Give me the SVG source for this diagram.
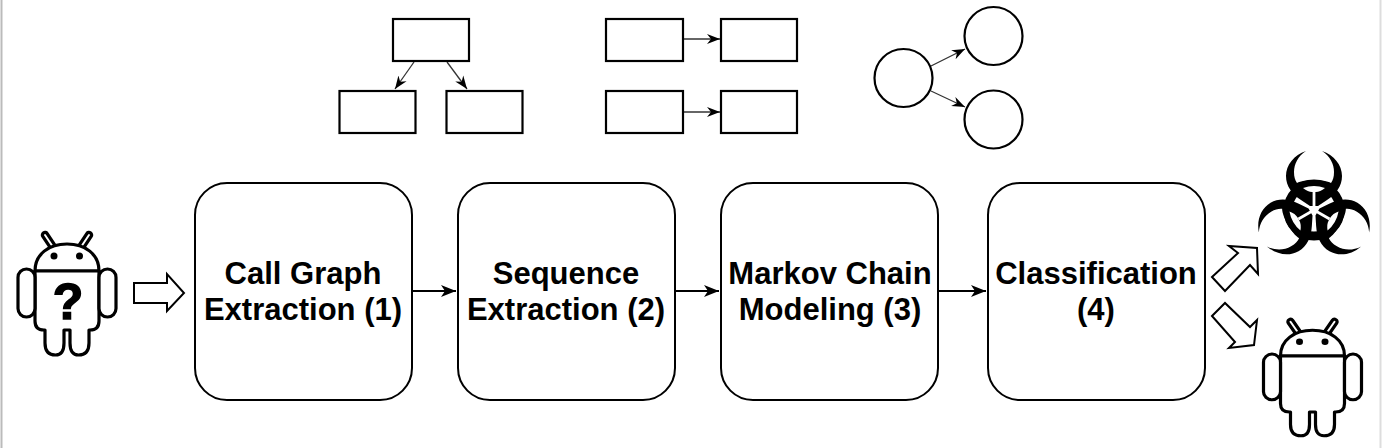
<svg xmlns="http://www.w3.org/2000/svg" width="1383" height="448" viewBox="0 0 1383 448">
<style>
.box{fill:#fff;stroke:#000;stroke-width:2}
.mini{fill:#fff;stroke:#000;stroke-width:2.2}
.lbl{font-family:"Liberation Sans",Arial,sans-serif;font-size:31px;font-weight:bold;text-anchor:middle;fill:#000}
.con{fill:none;stroke:#000;stroke-width:2;marker-end:url(#a)}
.con2{fill:none;stroke:#333;stroke-width:1.3;marker-end:url(#b)}
.fat{fill:#fff;stroke:#000;stroke-width:2;stroke-linejoin:miter}
.droid{fill:#fff;stroke:#000;stroke-width:3.2;stroke-linejoin:round;stroke-linecap:round}
</style>
<defs>
<marker id="a" markerWidth="16" markerHeight="14" refX="15" refY="7" orient="auto" markerUnits="userSpaceOnUse"><path d="M0 1L15 7L0 13L4 7Z" fill="#000"/></marker>
<marker id="b" markerWidth="14" markerHeight="12" refX="13" refY="6" orient="auto" markerUnits="userSpaceOnUse"><path d="M0 1L13 6L0 11L4 6Z" fill="#000"/></marker>
<g id="droidShape">
<path d="M-14 -24L-22 -36M14 -24L22 -36" stroke="#000" stroke-width="8.5" stroke-linecap="round" fill="none"/>
<path d="M-14 -24L-22 -36M14 -24L22 -36" stroke="#fff" stroke-width="2" stroke-linecap="round" fill="none"/>
<path class="droid" d="M-32 0C-32 -17 -18 -27 0 -27C18 -27 32 -17 32 0Z"/>
<path class="droid" d="M-32 0H32V50Q32 59 23 59H22V72Q22 84 11.500 84Q3 84 3 72V59H-3V72Q-3 84 -11.500 84Q-22 84 -22 72V59H-23Q-32 59 -32 50Z"/>
<rect class="droid" x="-49" y="-2" width="17" height="48" rx="8.5"/>
<rect class="droid" x="32" y="-2" width="17" height="48" rx="8.5"/>
<circle cx="-13" cy="-15" r="3.500" fill="#000"/>
<circle cx="12.500" cy="-15" r="3.500" fill="#000"/>
</g>
<path id="bladeBlack" fill="#000" d="M-8 -59C-20 -55 -28 -45 -28 -34C-28 -24 -22 -16 -13 -10L-4 -4H4L13 -10C22 -16 28 -24 28 -34C28 -45 20 -55 8 -59C16 -54 20 -46 20 -38C20 -33 19 -30 17 -27C10 -31 -10 -31 -17 -27C-19 -30 -20 -33 -20 -38C-20 -46 -16 -54 -8 -59Z"/>
<g id="bladeWhite" fill="#fff">
<path d="M-11 -22Q0 -26 11 -22Q6 -18 2 -18H-2Q-6 -18 -11 -22Z"/>
<path d="M0 -18V-2" stroke="#fff" stroke-width="2.8" fill="none"/>
</g>
</defs>
<rect width="1383" height="448" fill="#fff"/>
<path d="M1.500 0V448" stroke="#bbb" stroke-width="2" fill="none"/>
<path d="M1380.500 0V448" stroke="#ddd" stroke-width="2" fill="none"/>

<g id="connectors">
<path class="con" d="M412 291H456"/>
<path class="con" d="M675 291H719"/>
<path class="con" d="M938 291H986"/>
<path class="con2" d="M414 62L395 89"/>
<path class="con2" d="M447 62L467 89"/>
<path class="con2" d="M683 39H720"/>
<path class="con2" d="M683 112H720"/>
<path class="con2" d="M931 66L965 49"/>
<path class="con2" d="M931 91L965 107"/>
</g>

<g id="n1"><rect class="box" x="195" y="183" width="217" height="217" rx="32"/><text class="lbl" x="303" y="284">Call Graph</text><text class="lbl" x="303" y="320">Extraction (1)</text></g>
<g id="n2"><rect class="box" x="458" y="183" width="217" height="217" rx="32"/><text class="lbl" x="566" y="284">Sequence</text><text class="lbl" x="566" y="320">Extraction (2)</text></g>
<g id="n3"><rect class="box" x="721" y="183" width="217" height="217" rx="32"/><text class="lbl" x="830" y="284">Markov Chain</text><text class="lbl" x="830" y="320">Modeling (3)</text></g>
<g id="n4"><rect class="box" x="988" y="183" width="217" height="217" rx="32"/><text class="lbl" x="1096" y="284">Classification</text><text class="lbl" x="1096" y="320">(4)</text></g>

<g id="tree-root"><rect class="mini" x="393" y="19" width="76" height="42"/></g>
<g id="tree-left"><rect class="mini" x="339.500" y="91" width="76" height="42"/></g>
<g id="tree-right"><rect class="mini" x="446.500" y="91" width="76" height="42"/></g>
<g id="seq-a1"><rect class="mini" x="606" y="19" width="77" height="42"/></g>
<g id="seq-a2"><rect class="mini" x="721" y="19" width="76" height="42"/></g>
<g id="seq-b1"><rect class="mini" x="606" y="91" width="77" height="42"/></g>
<g id="seq-b2"><rect class="mini" x="721" y="91" width="76" height="42"/></g>
<g id="state-a"><circle class="mini" cx="903.500" cy="78" r="29"/></g>
<g id="state-b"><circle class="mini" cx="993.500" cy="36" r="29"/></g>
<g id="state-c"><circle class="mini" cx="993.500" cy="119.500" r="29"/></g>

<g id="input-arrow"><path class="fat" d="M134 283H167V274L184 293L167 311V303H134Z"/></g>
<g id="out-arrow-top"><path class="fat" d="M1212 277L1238 253L1229 246L1257 248L1258 274L1250 265L1225 291Z"/></g>
<g id="out-arrow-bottom"><path class="fat" d="M1212 316L1225 303L1250 327L1257 320L1254 345L1229 348L1235 342Z"/></g>

<g id="android-input"><use href="#droidShape" transform="translate(67 271)"/><text x="68" y="319" font-family="'Liberation Sans',Arial,sans-serif" font-size="50" font-weight="bold" text-anchor="middle" fill="#000" stroke="#000" stroke-width="1.500">?</text></g>
<g id="android-output"><use href="#droidShape" transform="translate(1312.500 356) scale(1 .95)"/></g>

<g id="biohazard" transform="translate(1314 210)">
<circle r="26" fill="none" stroke="#000" stroke-width="9"/>
<use href="#bladeBlack"/>
<use href="#bladeBlack" transform="rotate(120)"/>
<use href="#bladeBlack" transform="rotate(240)"/>
<use href="#bladeWhite"/>
<use href="#bladeWhite" transform="rotate(120)"/>
<use href="#bladeWhite" transform="rotate(240)"/>
</g>
</svg>
